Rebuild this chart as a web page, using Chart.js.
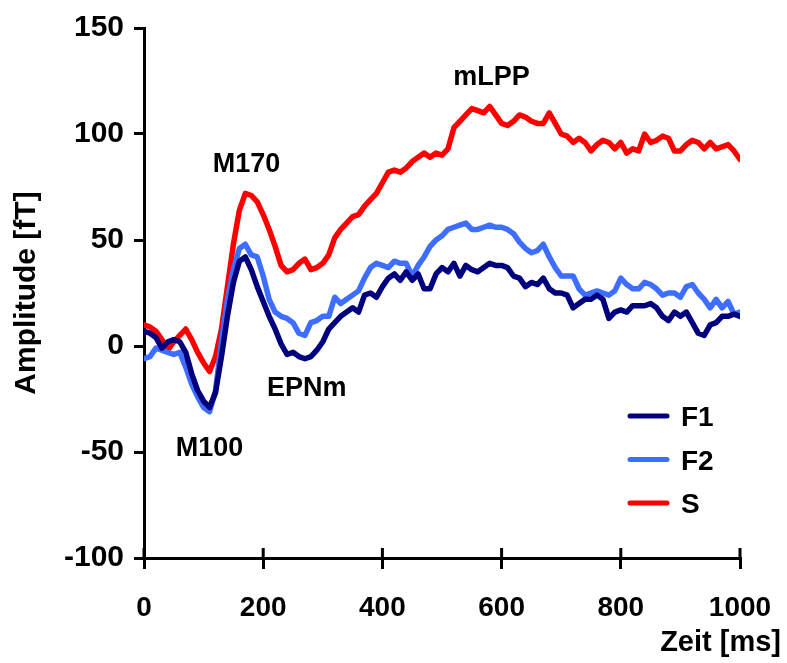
<!DOCTYPE html>
<html>
<head>
<meta charset="utf-8">
<title>MEG Amplitude</title>
<script src="https://cdn.jsdelivr.net/npm/chart.js@4.4.1/dist/chart.umd.min.js"></script>
<style>
    html, body { margin: 0; padding: 0; background: #fff; }
    #chart { display: block; }
</style>
</head>
<body>
<canvas id="chart" width="787" height="663"></canvas>
<script>
// time axis (ms), sampled every 10 ms
const times = [];
for (let t = 0; t <= 1000; t += 10) times.push(t);

const f1 = [7, 6, 4, -1, 2, 3, 2, -3, -13, -21,
    -26, -29, -22, -5, 14, 30, 40, 42, 36, 28,
    21, 14, 8, 1, -4, -3, -5, -6, -5, -2,
    2, 8, 11, 14, 16, 18, 16, 24, 25, 23,
    28, 32, 34, 31, 35, 31, 34, 27, 27, 34,
    37, 35, 39, 33, 38, 36, 35, 37, 39, 38,
    38, 37, 33, 32, 28, 30, 29, 32, 27, 25,
    25, 24, 18, 20, 22, 22, 24, 22, 13, 16,
    17, 16, 19, 19, 19, 20, 18, 14, 12, 16,
    14, 16, 11, 6, 5, 10, 11, 14, 14, 15, 14];

const f2 = [-6, -5, -1, -2, -3, -4, -3, -10, -18, -24,
    -29, -31, -21, 2, 22, 36, 46, 48, 43, 42,
    33, 22, 16, 14, 13, 11, 6, 5, 11, 12,
    14, 14, 23, 20, 22, 24, 26, 32, 37, 39,
    38, 37, 40, 39, 39, 33, 38, 42, 47, 50,
    52, 55, 56, 57, 58, 55, 55, 56, 57, 56,
    56, 55, 53, 49, 46, 44, 45, 48, 42, 37,
    33, 33, 33, 27, 24, 25, 26, 25, 24, 26,
    32, 29, 27, 27, 30, 29, 27, 24, 25, 25,
    23, 28, 29, 25, 22, 18, 22, 18, 21, 15, 16];

const s = [10, 9, 7, 3, -2, 2, 5, 8, 3, -3,
    -8, -12, -5, 8, 28, 48, 64, 72, 71, 68,
    62, 55, 47, 38, 35, 36, 39, 41, 36, 37,
    39, 43, 51, 55, 58, 61, 62, 66, 69, 72,
    77, 82, 83, 82, 84, 87, 89, 91, 89, 91,
    90, 93, 103, 106, 109, 112, 111, 110, 113, 109,
    105, 104, 106, 109, 108, 106, 105, 105, 110, 105,
    100, 99, 96, 98, 96, 92, 95, 97, 96, 93,
    96, 91, 93, 92, 100, 96, 97, 99, 98, 92,
    92, 95, 97, 96, 93, 96, 93, 94, 95, 92, 88];

const xTicks = [0, 200, 400, 600, 800, 1000];
const yTicks = [-100, -50, 0, 50, 100, 150];

// component labels, placed in data coordinates (x = ms, y = baseline in fT)
const peakLabels = ['M100', 'M170', 'EPNm', 'mLPP'];
const peakX = [110, 172, 273, 583];
const peakY = [-52, 82, -23.5, 123];

const FONT = 'Arial, "Liberation Sans", sans-serif';

function series(values) {
    return times.map((t, i) => ({ x: t, y: values[i] }));
}

function lineSet(label, values, color) {
    return {
        label: label,
        data: series(values),
        borderColor: color,
        backgroundColor: color,
        borderWidth: 5.5,
        pointRadius: 0,
        tension: 0,
        borderJoinStyle: 'round',
        borderCapStyle: 'round'
    };
}

/**
 * Extra drawing: inner half of x ticks, titles, peak labels, legend
 */
const extras = {
    id: 'extras',
    afterDraw(chart) {
        const ctx = chart.ctx;
        const xs = chart.scales.x;
        const ys = chart.scales.y;
        const area = chart.chartArea;

        ctx.save();
        ctx.strokeStyle = '#000';
        ctx.lineWidth = 3;
        xTicks.forEach(v => {
            const px = xs.getPixelForValue(v);
            ctx.beginPath();
            ctx.moveTo(px, area.bottom - 10);
            ctx.lineTo(px, area.bottom);
            ctx.stroke();
        });

        ctx.fillStyle = '#000';

        // peak labels
        ctx.font = 'bold 27px ' + FONT;
        ctx.textAlign = 'center';
        ctx.textBaseline = 'alphabetic';
        peakLabels.forEach((txt, i) => {
            ctx.fillText(txt, xs.getPixelForValue(peakX[i]), ys.getPixelForValue(peakY[i]));
        });

        // axis titles
        ctx.font = 'bold 29px ' + FONT;
        ctx.textAlign = 'right';
        ctx.fillText('Zeit [ms]', 781, 651);

        ctx.save();
        ctx.translate(35, 293);
        ctx.rotate(-Math.PI / 2);
        ctx.font = 'bold 30px ' + FONT;
        ctx.textAlign = 'center';
        ctx.fillText('Amplitude [fT]', 0, 0);
        ctx.restore();

        // legend
        ctx.font = 'bold 28px ' + FONT;
        ctx.textAlign = 'left';
        ctx.lineCap = 'round';
        ctx.lineWidth = 5;
        chart.data.datasets.forEach((ds, i) => {
            const y = 416 + i * 43.5;
            ctx.strokeStyle = ds.borderColor;
            ctx.beginPath();
            ctx.moveTo(630, y);
            ctx.lineTo(667, y);
            ctx.stroke();
            ctx.fillText(ds.label, 681, y + 10);
        });
        ctx.restore();
    }
};

new Chart(document.getElementById('chart'), {
    type: 'line',
    data: {
        datasets: [
            lineSet('F1', f1, '#00007f'),
            lineSet('F2', f2, '#3d6eff'),
            lineSet('S', s, '#ff0000')
        ]
    },
    options: {
        responsive: false,
        animation: false,
        layout: { padding: { top: 27, right: 47, left: 0, bottom: 0 } },
        plugins: {
            legend: { display: false },
            tooltip: { enabled: false }
        },
        scales: {
            x: {
                type: 'linear',
                min: 0,
                max: 1000,
                afterFit: scale => { scale.height = 105; scale.paddingRight = 0; },
                afterBuildTicks: scale => { scale.ticks = xTicks.map(v => ({ value: v })); },
                border: { display: true, color: '#000', width: 3 },
                grid: { drawOnChartArea: false, drawTicks: true, tickLength: 11, color: '#000', lineWidth: 3 },
                ticks: {
                    color: '#000',
                    padding: 22,
                    maxRotation: 0,
                    callback: v => String(v),
                    font: { family: FONT, size: 28, weight: 'bold' }
                }
            },
            y: {
                min: -100,
                max: 150,
                afterFit: scale => { scale.width = 144; },
                afterBuildTicks: scale => { scale.ticks = yTicks.map(v => ({ value: v })); },
                border: { display: true, color: '#000', width: 3 },
                grid: { drawOnChartArea: false, drawTicks: true, tickLength: 10, color: '#000', lineWidth: 3 },
                ticks: {
                    color: '#000',
                    padding: 10,
                    callback: v => String(v),
                    font: { family: FONT, size: 30, weight: 'bold' }
                }
            }
        }
    },
    plugins: [extras]
});
</script>
</body>
</html>
